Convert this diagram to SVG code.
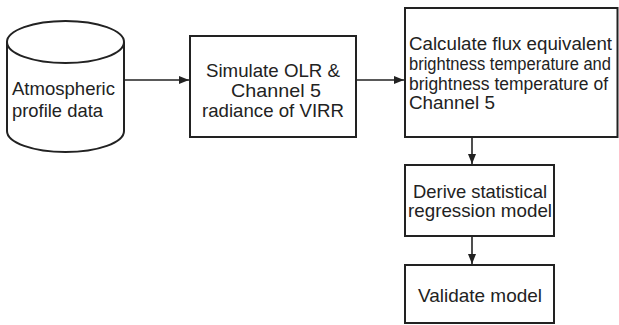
<svg xmlns="http://www.w3.org/2000/svg" width="619" height="325" viewBox="0 0 619 325">
  <style>
    .shape { fill: #ffffff; stroke: #222222; stroke-width: 2; }
    .label { font-family: "Liberation Sans", Arial, sans-serif; font-size: 19px; fill: #222222; }
    .tight { font-size: 17.5px; }
    .mid { text-anchor: middle; }
    .edge { fill: none; stroke: #222222; stroke-width: 1.6; }
  </style>
  <defs>
    <marker id="arrow" viewBox="0 0 10 8" refX="10" refY="4" markerWidth="10" markerHeight="8" markerUnits="userSpaceOnUse" orient="auto">
      <path d="M0,0 L10,4 L0,8 Z" fill="#222222"/>
    </marker>
  </defs>

  <rect width="619" height="325" fill="#ffffff"/>

  <!-- data store -->
  <g id="atmospheric-profile-data">
    <path class="shape" d="M7,42 A58.5,21 0 0 1 124,42 L124,131 A58.5,21 0 0 1 7,131 Z"/>
    <path class="shape" fill="none" d="M7,42 A58.5,21 0 0 0 124,42"/>
    <text class="label" x="12" y="95" textLength="103" lengthAdjust="spacingAndGlyphs">Atmospheric</text>
    <text class="label" x="12" y="117" textLength="91" lengthAdjust="spacingAndGlyphs">profile data</text>
  </g>

  <g id="simulate-olr">
    <rect class="shape" x="190" y="36" width="166" height="101"/>
    <text class="label mid" x="273" y="77" textLength="134" lengthAdjust="spacingAndGlyphs">Simulate OLR &amp;</text>
    <text class="label mid" x="276" y="97" textLength="90" lengthAdjust="spacingAndGlyphs">Channel 5</text>
    <text class="label mid" x="273" y="117" textLength="142" lengthAdjust="spacingAndGlyphs">radiance of VIRR</text>
  </g>

  <g id="calculate-brightness">
    <rect class="shape" x="405" y="8" width="212.5" height="129"/>
    <text class="label tight" x="409" y="50" textLength="203" lengthAdjust="spacingAndGlyphs">Calculate flux equivalent</text>
    <text class="label tight" x="409" y="70" textLength="202" lengthAdjust="spacingAndGlyphs">brightness temperature and</text>
    <text class="label tight" x="409" y="90" textLength="199" lengthAdjust="spacingAndGlyphs">brightness temperature of</text>
    <text class="label tight" x="409" y="109" textLength="86" lengthAdjust="spacingAndGlyphs">Channel 5</text>
  </g>

  <g id="derive-regression">
    <rect class="shape" x="405" y="165" width="149" height="71"/>
    <text class="label mid" x="480" y="198" textLength="134" lengthAdjust="spacingAndGlyphs">Derive statistical</text>
    <text class="label mid" x="480" y="217" textLength="144" lengthAdjust="spacingAndGlyphs">regression model</text>
  </g>

  <g id="validate-model">
    <rect class="shape" x="405" y="265" width="149" height="58"/>
    <text class="label mid" x="480" y="302" textLength="124" lengthAdjust="spacingAndGlyphs">Validate model</text>
  </g>

  <g id="connectors">
    <line class="edge" x1="124" y1="80" x2="189" y2="80" marker-end="url(#arrow)"/>
    <line class="edge" x1="356" y1="80" x2="404" y2="80" marker-end="url(#arrow)"/>
    <line class="edge" x1="472" y1="137" x2="472" y2="164" marker-end="url(#arrow)"/>
    <line class="edge" x1="472" y1="236" x2="472" y2="264" marker-end="url(#arrow)"/>
  </g>
</svg>
